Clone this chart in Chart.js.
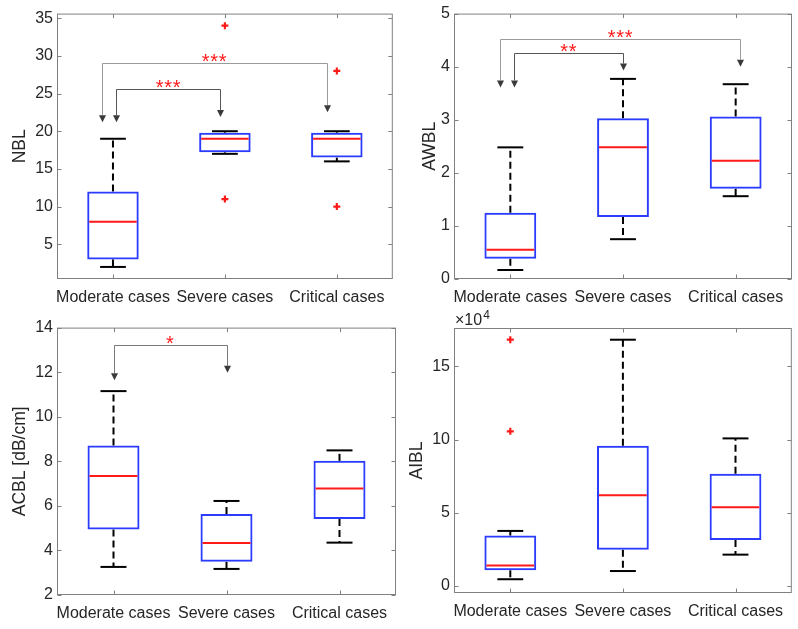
<!DOCTYPE html>
<html>
<head>
<meta charset="utf-8">
<script src="https://cdn.jsdelivr.net/npm/chart.js@4.4.1/dist/chart.umd.min.js"></script>
<style>
  body { margin: 0; background: #fff; }
  .panel { position: absolute; }
</style>
</head>
<body>
<div class="panel" style="left:0;top:0"><canvas id="nbl" width="399" height="314"></canvas></div>
<div class="panel" style="left:399px;top:0"><canvas id="awbl" width="399" height="314"></canvas></div>
<div class="panel" style="left:0;top:314px"><canvas id="acbl" width="399" height="315"></canvas></div>
<div class="panel" style="left:399px;top:304px"><canvas id="aibl" width="399" height="325"></canvas></div>
<script>
const categories = ['Moderate cases', 'Severe cases', 'Critical cases'];

// NBL
const nblLow = [2, 17, 16];
const nblQ1 = [3, 17.2, 16.5];
const nblMed = [8, 19, 19];
const nblQ3 = [12, 19.8, 19.8];
const nblHigh = [19, 20, 20];
const nblOutliers = [[], [11, 34], [10, 28]];
const nblTicks = [5, 10, 15, 20, 25, 30, 35];
const nblBrackets = [
  { from: 0, to: 2, fromOff: -0.1, toOff: -0.09, top: 29.1, fromTip: 21.2, toTip: 22.5, stars: 3 },
  { from: 0, to: 1, fromOff: 0.03, toOff: -0.045, top: 25.6, fromTip: 21.2, toTip: 21.9, stars: 3 }
];

// AWBL
const awblLow = [0.17, 0.75, 1.56];
const awblQ1 = [0.38, 1.17, 1.7];
const awblMed = [0.55, 2.48, 2.23];
const awblQ3 = [1.25, 3.03, 3.06];
const awblHigh = [2.48, 3.77, 3.67];
const awblOutliers = [[], [], []];
const awblTicks = [0, 1, 2, 3, 4, 5];
const awblBrackets = [
  { from: 0, to: 2, fromOff: -0.09, toOff: 0.04, top: 4.53, fromTip: 3.61, toTip: 4.0, stars: 3 },
  { from: 0, to: 1, fromOff: 0.03, toOff: 0, top: 4.25, fromTip: 3.61, toTip: 3.93, stars: 2 }
];

// ACBL
const acblLow = [3.26, 3.17, 4.35];
const acblQ1 = [4.94, 3.49, 5.41];
const acblMed = [7.34, 4.33, 6.78];
const acblQ3 = [8.71, 5.63, 8.02];
const acblHigh = [11.15, 6.22, 8.49];
const acblOutliers = [[], [], []];
const acblTicks = [2, 4, 6, 8, 10, 12, 14];
const acblBrackets = [
  { from: 0, to: 1, fromOff: 0, toOff: 0, top: 13.24, fromTip: 11.64, toTip: 11.97, stars: 1 }
];

// AIBL
const aiblLow = [4600, 10200, 21400];
const aiblQ1 = [10700, 24800, 31400];
const aiblMed = [13900, 61900, 53700];
const aiblQ3 = [34400, 95800, 76700];
const aiblHigh = [37600, 168200, 100800];
const aiblOutliers = [[105600, 168200], [], []];
const aiblTicks = [0, 50000, 100000, 150000];
const aiblBrackets = [];

const FONT = 'Liberation Sans, Arial, Helvetica, sans-serif';
const TEXT = '#262626';
const BLUE = '#2b3cff';
const RED = '#ff1a1a';
const bracketColors = ['#9a9a9a', '#555555'];

Chart.defaults.font.family = FONT;
Chart.defaults.color = TEXT;

function seg(ctx, x1, y1, x2, y2) {
  ctx.beginPath();
  ctx.moveTo(x1, y1);
  ctx.lineTo(x2, y2);
  ctx.stroke();
}

function boxParts(s) {
  return {
    id: 'boxParts',
    beforeDatasetsDraw(chart) {
      const { ctx, scales: { x, y } } = chart;
      const bars = chart.getDatasetMeta(0).data;
      ctx.save();
      ctx.strokeStyle = '#000';
      ctx.lineWidth = 2;
      s.low.forEach((lo, i) => {
        const cx = x.getPixelForValue(i);
        const half = bars[i].width / 4;
        ctx.setLineDash([7, 4]);
        seg(ctx, cx, y.getPixelForValue(s.q3[i]), cx, y.getPixelForValue(s.high[i]));
        seg(ctx, cx, y.getPixelForValue(s.q1[i]), cx, y.getPixelForValue(lo));
        ctx.setLineDash([]);
        const yh = y.getPixelForValue(s.high[i]);
        const yl = y.getPixelForValue(lo);
        seg(ctx, cx - half, yh, cx + half, yh);
        seg(ctx, cx - half, yl, cx + half, yl);
      });
      ctx.restore();
    },
    afterDatasetsDraw(chart) {
      const { ctx, chartArea: a, scales: { x, y } } = chart;
      const bars = chart.getDatasetMeta(0).data;
      ctx.save();
      // medians
      ctx.strokeStyle = RED;
      ctx.lineWidth = 2;
      s.med.forEach((m, i) => {
        const b = bars[i];
        const ym = y.getPixelForValue(m);
        seg(ctx, b.x - b.width / 2 + 2, ym, b.x + b.width / 2 - 2, ym);
      });
      // significance brackets
      s.brackets.forEach((br, k) => {
        const xa = x.getPixelForValue(br.from + br.fromOff);
        const xb = x.getPixelForValue(br.to + br.toOff);
        const yt = Math.round(y.getPixelForValue(br.top)) + 0.5;
        const ya = y.getPixelForValue(br.fromTip);
        const yb = y.getPixelForValue(br.toTip);
        ctx.strokeStyle = s.brackets.length > 1 ? bracketColors[k] : '#7a7a7a';
        ctx.lineWidth = 1;
        ctx.beginPath();
        ctx.moveTo(Math.round(xa) + 0.5, ya - 7);
        ctx.lineTo(Math.round(xa) + 0.5, yt);
        ctx.lineTo(Math.round(xb) + 0.5, yt);
        ctx.lineTo(Math.round(xb) + 0.5, yb - 7);
        ctx.stroke();
        ctx.fillStyle = '#3a3a3a';
        [[xa, ya], [xb, yb]].forEach(([px, py]) => {
          px = Math.round(px) + 0.5;
          ctx.beginPath();
          ctx.moveTo(px, py);
          ctx.lineTo(px - 3.5, py - 7);
          ctx.lineTo(px + 3.5, py - 7);
          ctx.closePath();
          ctx.fill();
        });
        ctx.fillStyle = RED;
        ctx.font = '20px ' + FONT;
        ctx.textAlign = 'center';
        ctx.textBaseline = 'alphabetic';
        const mid = (xa + xb) / 2;
        for (let j = 0; j < br.stars; j++) {
          ctx.fillText('*', mid + (j - (br.stars - 1) / 2) * 8.5, yt - 7 + 11);
        }
      });
      // axes frame with inward ticks
      ctx.strokeStyle = '#808080';
      ctx.lineWidth = 1;
      const L = a.left + 0.5, R = a.right - 0.5, T = a.top + 0.5, B = a.bottom - 0.5;
      ctx.strokeRect(L, T, R - L, B - T);
      y.ticks.forEach(t => {
        const py = Math.round(y.getPixelForValue(t.value)) + 0.5;
        seg(ctx, L, py, L + 4, py);
        seg(ctx, R, py, R - 4, py);
      });
      categories.forEach((c, i) => {
        const px = Math.round(x.getPixelForValue(i)) + 0.5;
        seg(ctx, px, B, px, B - 4);
        seg(ctx, px, T, px, T + 4);
      });
      if (s.exponent) {
        ctx.fillStyle = TEXT;
        ctx.textAlign = 'left';
        ctx.textBaseline = 'alphabetic';
        ctx.font = '16px ' + FONT;
        ctx.fillText('\u00d710', a.left + 1, a.top - 3);
        const w = ctx.measureText('\u00d710').width;
        ctx.font = '12px ' + FONT;
        ctx.fillText(s.exponent, a.left + 1 + w + 1, a.top - 9);
      }
      ctx.restore();
    }
  };
}

function boxChart(id, s) {
  const outlierPts = [];
  s.outliers.forEach((list, i) => list.forEach(v => outlierPts.push({ x: categories[i], y: v })));
  return new Chart(document.getElementById(id), {
    type: 'bar',
    data: {
      labels: categories,
      datasets: [
        {
          data: s.q1.map((v, i) => [v, s.q3[i]]),
          backgroundColor: 'rgba(0,0,0,0)',
          borderColor: BLUE,
          borderWidth: 2,
          borderSkipped: false,
          barPercentage: 0.46,
          categoryPercentage: 1
        },
        {
          type: 'line',
          data: outlierPts,
          showLine: false,
          pointStyle: 'cross',
          pointRadius: 3.5,
          pointBorderWidth: 2.2,
          borderColor: RED,
          backgroundColor: RED
        }
      ]
    },
    options: {
      responsive: false,
      animation: false,
      layout: { padding: s.padding },
      plugins: { legend: { display: false }, tooltip: { enabled: false } },
      scales: {
        x: {
          grid: { display: false, drawTicks: false },
          border: { display: false },
          ticks: { font: { size: 16 }, color: TEXT, padding: 9, maxRotation: 0, minRotation: 0, autoSkip: false },
          afterFit: sc => { sc.height = s.xHeight; }
        },
        y: {
          min: s.min,
          max: s.max,
          grid: { display: false, drawTicks: false },
          border: { display: false },
          ticks: {
            font: { size: 16 }, color: TEXT, padding: 4,
            callback: v => s.tickFmt ? s.tickFmt(v) : v
          },
          afterBuildTicks: sc => { sc.ticks = s.ticks.map(v => ({ value: v })); },
          title: { display: true, text: s.title, font: { size: 17.5 }, color: TEXT, padding: { top: s.titlePad, bottom: 0 } },
          afterFit: sc => { sc.width = s.yWidth; }
        }
      }
    },
    plugins: [boxParts(s)]
  });
}

boxChart('nbl', {
  low: nblLow, q1: nblQ1, med: nblMed, q3: nblQ3, high: nblHigh, outliers: nblOutliers,
  ticks: nblTicks, brackets: nblBrackets, title: 'NBL', min: 0.4, max: 35.6,
  padding: { left: 0, top: 13, right: 3, bottom: 0 }, yWidth: 57, xHeight: 35, titlePad: 10
});
boxChart('awbl', {
  low: awblLow, q1: awblQ1, med: awblMed, q3: awblQ3, high: awblHigh, outliers: awblOutliers,
  ticks: awblTicks, brackets: awblBrackets, title: 'AWBL', min: 0, max: 5,
  padding: { left: 0, top: 13, right: 6, bottom: 0 }, yWidth: 55, xHeight: 35, titlePad: 21
});
boxChart('acbl', {
  low: acblLow, q1: acblQ1, med: acblMed, q3: acblQ3, high: acblHigh, outliers: acblOutliers,
  ticks: acblTicks, brackets: acblBrackets, title: 'ACBL [dB/cm]', min: 2, max: 14,
  padding: { left: 0, top: 13, right: 3, bottom: 0 }, yWidth: 57, xHeight: 34, titlePad: 10
});
boxChart('aibl', {
  low: aiblLow, q1: aiblQ1, med: aiblMed, q3: aiblQ3, high: aiblHigh, outliers: aiblOutliers,
  ticks: aiblTicks, brackets: aiblBrackets, title: 'AIBL', min: -4800, max: 176200,
  padding: { left: 0, top: 24, right: 6, bottom: 0 }, yWidth: 55, xHeight: 36, titlePad: 8,
  tickFmt: v => v / 10000, exponent: '4'
});
</script>
</body>
</html>
